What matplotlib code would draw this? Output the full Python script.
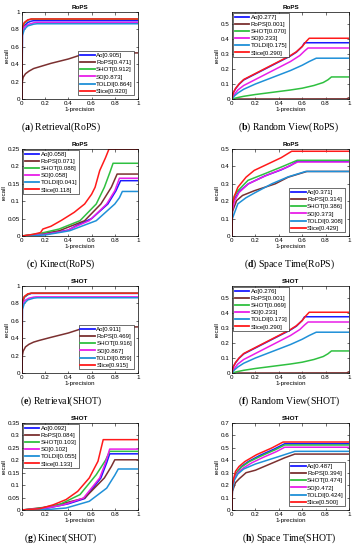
import matplotlib
matplotlib.use("Agg")
import matplotlib.pyplot as plt
from matplotlib import font_manager

# ---- data: (1-precision, recall) points ------------------------------------
methods = ["Ao", "RoPS", "SHOT", "SD", "TOLDI", "Slice"]
colors = ["#1a1aff", "#7b3030", "#2fc040", "#e81ee8", "#1f90d8", "#ff1a1a"]

# (a) Retrieval(RoPS)
ret_rops_ao = [(0, 0), (0.003, 0.78), (0.02, 0.84), (0.05, 0.88), (0.08, 0.895), (0.1, 0.9), (1, 0.9)]
ret_rops_rops = [(0, 0), (0.003, 0.2), (0.01, 0.25), (0.03, 0.29), (0.06, 0.32), (0.1, 0.35), (0.15, 0.37),
                 (0.25, 0.41), (0.4, 0.46), (0.55, 0.525), (1, 0.53)]
ret_rops_shot = [(0, 0), (0.002, 0.8), (0.02, 0.87), (0.05, 0.905), (0.08, 0.918), (1, 0.918)]
ret_rops_sd = [(0, 0), (0.003, 0.76), (0.02, 0.83), (0.06, 0.86), (0.1, 0.875), (0.12, 0.88), (1, 0.88)]
ret_rops_toldi = [(0, 0), (0.004, 0.73), (0.02, 0.8), (0.05, 0.84), (0.1, 0.86), (0.13, 0.865), (1, 0.865)]
ret_rops_slice = [(0, 0), (0.002, 0.82), (0.02, 0.88), (0.05, 0.91), (0.08, 0.92), (1, 0.92)]
ret_rops_auc = ["0.905", "0.471", "0.912", "0.873", "0.864", "0.920"]

# (b) Random View(RoPS)
rv_rops_ao = [(0, 0), (0.01, 0.04), (0.03, 0.068), (0.06, 0.098), (0.1, 0.127), (0.2, 0.167), (0.3, 0.207),
              (0.4, 0.247), (0.5, 0.287), (0.55, 0.312), (0.6, 0.35), (0.62, 0.375), (1, 0.375)]
rv_rops_rops = [(0, 0), (0.98, 0.001), (1, 0.008)]
rv_rops_shot = [(0, 0), (0.05, 0.01), (0.1, 0.018), (0.2, 0.03), (0.3, 0.04), (0.4, 0.05), (0.5, 0.06),
                (0.6, 0.072), (0.7, 0.09), (0.78, 0.11), (0.82, 0.128), (0.85, 0.147), (1, 0.147)]
rv_rops_sd = [(0, 0), (0.01, 0.02), (0.05, 0.06), (0.1, 0.09), (0.2, 0.13), (0.3, 0.17), (0.4, 0.21),
              (0.5, 0.25), (0.58, 0.29), (0.62, 0.32), (0.65, 0.34), (1, 0.34)]
rv_rops_toldi = [(0, 0), (0.02, 0.02), (0.05, 0.04), (0.1, 0.065), (0.2, 0.1), (0.3, 0.13), (0.4, 0.16),
                 (0.5, 0.19), (0.6, 0.225), (0.66, 0.25), (0.72, 0.272), (1, 0.272)]
rv_rops_slice = [(0, 0), (0.01, 0.04), (0.03, 0.07), (0.06, 0.1), (0.1, 0.13), (0.2, 0.17), (0.3, 0.21),
                 (0.4, 0.25), (0.5, 0.29), (0.55, 0.315), (0.6, 0.35), (0.63, 0.38), (0.66, 0.405), (1, 0.405)]
rv_rops_auc = ["0.277", "0.001", "0.070", "0.233", "0.175", "0.290"]

# (c) Kinect(RoPS)
kin_rops_ao = [(0, 0), (0.2, 0.005), (0.4, 0.017), (0.47, 0.03), (0.6, 0.05), (0.74, 0.092), (0.81, 0.13),
               (0.85, 0.159), (1, 0.159)]
kin_rops_rops = [(0, 0), (0.2, 0.008), (0.32, 0.015), (0.54, 0.044), (0.68, 0.092), (0.77, 0.14),
                 (0.82, 0.178), (1, 0.178)]
kin_rops_shot = [(0, 0), (0.15, 0.007), (0.32, 0.02), (0.5, 0.044), (0.64, 0.092), (0.71, 0.14),
                 (0.76, 0.185), (0.785, 0.209), (1, 0.209)]
kin_rops_sd = [(0, 0), (0.2, 0.005), (0.38, 0.015), (0.58, 0.044), (0.73, 0.092), (0.8, 0.13),
               (0.84, 0.166), (1, 0.166)]
kin_rops_toldi = [(0, 0), (0.2, 0.003), (0.41, 0.015), (0.64, 0.044), (0.8, 0.092), (0.84, 0.11),
                  (0.865, 0.128), (1, 0.128)]
kin_rops_slice = [(0, 0), (0.1, 0.005), (0.16, 0.01), (0.18, 0.02), (0.25, 0.028), (0.34, 0.045),
                  (0.45, 0.068), (0.54, 0.092), (0.6, 0.12), (0.63, 0.14), (0.67, 0.188), (0.72, 0.225),
                  (0.75, 0.25), (1, 0.25)]
kin_rops_auc = ["0.058", "0.071", "0.088", "0.058", "0.041", "0.118"]

# (d) Space Time(RoPS)
st_rops_ao = [(0, 0), (0.003, 0.16), (0.02, 0.21), (0.06, 0.255), (0.14, 0.3), (0.28, 0.345), (0.42, 0.38),
              (0.5, 0.405), (0.56, 0.43), (1, 0.43)]
st_rops_rops = [(0, 0), (0.003, 0.14), (0.04, 0.204), (0.09, 0.233), (0.19, 0.26), (0.37, 0.3),
                (0.48, 0.338), (0.64, 0.371), (1, 0.371)]
st_rops_shot = [(0, 0), (0.003, 0.17), (0.02, 0.23), (0.05, 0.26), (0.137, 0.32), (0.28, 0.358),
                (0.42, 0.396), (0.557, 0.435), (1, 0.435)]
st_rops_sd = [(0, 0), (0.003, 0.15), (0.02, 0.2), (0.06, 0.25), (0.14, 0.3), (0.3, 0.35), (0.45, 0.39),
              (0.56, 0.425), (1, 0.425)]
st_rops_toldi = [(0, 0), (0.003, 0.1), (0.05, 0.185), (0.12, 0.22), (0.2, 0.25), (0.34, 0.3), (0.48, 0.34),
                 (0.63, 0.371), (1, 0.371)]
st_rops_slice = [(0, 0), (0.003, 0.18), (0.017, 0.223), (0.05, 0.28), (0.12, 0.338), (0.19, 0.377),
                 (0.31, 0.415), (0.42, 0.45), (0.51, 0.487), (1, 0.487)]
st_rops_auc = ["0.371", "0.314", "0.386", "0.373", "0.308", "0.429"]

# (e) Retrieval(SHOT)
ret_shot_ao = [(0, 0), (0.002, 0.8), (0.02, 0.87), (0.05, 0.9), (0.08, 0.915), (1, 0.915)]
ret_shot_rops = [(0, 0), (0.003, 0.2), (0.01, 0.25), (0.03, 0.3), (0.06, 0.33), (0.1, 0.355), (0.15, 0.375),
                 (0.25, 0.41), (0.4, 0.46), (0.55, 0.525), (1, 0.53)]
ret_shot_shot = [(0, 0), (0.002, 0.8), (0.02, 0.875), (0.05, 0.905), (0.08, 0.917), (1, 0.917)]
ret_shot_sd = [(0, 0), (0.003, 0.76), (0.02, 0.83), (0.06, 0.86), (0.1, 0.872), (0.12, 0.875), (1, 0.875)]
ret_shot_toldi = [(0, 0), (0.004, 0.73), (0.02, 0.8), (0.05, 0.84), (0.1, 0.86), (0.13, 0.865), (1, 0.865)]
ret_shot_slice = [(0, 0), (0.002, 0.82), (0.02, 0.88), (0.05, 0.91), (0.08, 0.918), (1, 0.918)]
ret_shot_auc = ["0.911", "0.469", "0.916", "0.867", "0.859", "0.915"]

# (f) Random View(SHOT)
rv_shot_ao = [(0, 0), (0.01, 0.04), (0.03, 0.068), (0.06, 0.098), (0.1, 0.127), (0.2, 0.167), (0.3, 0.207),
              (0.4, 0.247), (0.5, 0.287), (0.55, 0.312), (0.6, 0.35), (0.62, 0.375), (1, 0.375)]
rv_shot_rops = [(0, 0), (0.98, 0.001), (1, 0.008)]
rv_shot_shot = [(0, 0), (0.05, 0.01), (0.1, 0.018), (0.2, 0.03), (0.3, 0.04), (0.4, 0.05), (0.5, 0.06),
                (0.6, 0.072), (0.7, 0.09), (0.78, 0.11), (0.82, 0.128), (0.85, 0.147), (1, 0.147)]
rv_shot_sd = [(0, 0), (0.01, 0.02), (0.05, 0.06), (0.1, 0.09), (0.2, 0.13), (0.3, 0.17), (0.4, 0.21),
              (0.5, 0.25), (0.58, 0.29), (0.62, 0.32), (0.65, 0.34), (1, 0.34)]
rv_shot_toldi = [(0, 0), (0.02, 0.02), (0.05, 0.04), (0.1, 0.065), (0.2, 0.1), (0.3, 0.13), (0.4, 0.16),
                 (0.5, 0.19), (0.6, 0.225), (0.66, 0.25), (0.72, 0.272), (1, 0.272)]
rv_shot_slice = [(0, 0), (0.01, 0.04), (0.03, 0.07), (0.06, 0.1), (0.1, 0.13), (0.2, 0.17), (0.3, 0.21),
                 (0.4, 0.25), (0.5, 0.29), (0.55, 0.315), (0.6, 0.35), (0.63, 0.38), (0.66, 0.405), (1, 0.405)]
rv_shot_auc = ["0.276", "0.001", "0.069", "0.233", "0.173", "0.290"]

# (g) Kinect(SHOT)
kin_shot_ao = [(0, 0), (0.2, 0.006), (0.4, 0.025), (0.54, 0.046), (0.68, 0.129), (0.73, 0.19),
               (0.756, 0.226), (1, 0.226)]
kin_shot_rops = [(0, 0), (0.18, 0.01), (0.3, 0.02), (0.54, 0.048), (0.71, 0.129), (0.77, 0.175),
                 (0.8, 0.202), (1, 0.202)]
kin_shot_shot = [(0, 0), (0.18, 0.008), (0.32, 0.021), (0.5, 0.062), (0.64, 0.142), (0.72, 0.2),
                 (0.756, 0.236), (1, 0.236)]
kin_shot_sd = [(0, 0), (0.2, 0.007), (0.35, 0.02), (0.53, 0.048), (0.67, 0.129), (0.72, 0.19),
               (0.756, 0.245), (1, 0.245)]
kin_shot_toldi = [(0, 0), (0.25, 0.003), (0.38, 0.008), (0.58, 0.035), (0.73, 0.088), (0.8, 0.14),
                  (0.83, 0.165), (1, 0.165)]
kin_shot_slice = [(0, 0), (0.15, 0.005), (0.27, 0.021), (0.38, 0.042), (0.48, 0.075), (0.58, 0.129),
                  (0.655, 0.196), (0.7, 0.283), (1, 0.283)]
kin_shot_auc = ["0.092", "0.084", "0.103", "0.102", "0.055", "0.133"]

# (h) Space Time(SHOT)
st_shot_ao = [(0, 0), (0.003, 0.2), (0.02, 0.26), (0.04, 0.3), (0.08, 0.35), (0.14, 0.39), (0.24, 0.44),
              (0.36, 0.49), (0.45, 0.533), (1, 0.533)]
st_shot_rops = [(0, 0), (0.003, 0.15), (0.03, 0.22), (0.06, 0.25), (0.12, 0.3), (0.2, 0.32), (0.25, 0.34),
                (0.35, 0.38), (0.45, 0.42), (0.537, 0.45), (1, 0.45)]
st_shot_shot = [(0, 0), (0.003, 0.19), (0.02, 0.255), (0.04, 0.3), (0.08, 0.345), (0.15, 0.39),
                (0.25, 0.435), (0.37, 0.485), (0.45, 0.523), (1, 0.523)]
st_shot_sd = [(0, 0), (0.003, 0.18), (0.02, 0.25), (0.05, 0.3), (0.1, 0.34), (0.17, 0.38), (0.27, 0.425),
              (0.38, 0.47), (0.45, 0.505), (1, 0.505)]
st_shot_toldi = [(0, 0), (0.003, 0.15), (0.02, 0.24), (0.05, 0.29), (0.1, 0.33), (0.2, 0.37), (0.3, 0.4),
                 (0.4, 0.43), (0.537, 0.472), (1, 0.472)]
st_shot_slice = [(0, 0), (0.003, 0.2), (0.015, 0.257), (0.03, 0.311), (0.06, 0.35), (0.11, 0.39),
                 (0.21, 0.445), (0.34, 0.499), (0.437, 0.547), (1, 0.547)]
st_shot_auc = ["0.487", "0.394", "0.474", "0.472", "0.424", "0.500"]

# ---- figure ----------------------------------------------------------------
plt.rcParams["font.family"] = ["Liberation Sans", "DejaVu Sans"]
plt.rcParams["mathtext.fontset"] = "custom"
plt.rcParams["mathtext.rm"] = "Liberation Serif"
plt.rcParams["mathtext.bf"] = "Liberation Serif:bold"

# legend text is narrow in the original; use the narrow face if available
installed = {f.name for f in font_manager.fontManager.ttflist}
leg_family = "Liberation Sans Narrow" if "Liberation Sans Narrow" in installed else "Liberation Sans"

W, H = 356, 550
fig = plt.figure(figsize=(W / 100, H / 100), dpi=100)

panels = [
    ("a", "Retrieval(RoPS)", "RoPS",
     [ret_rops_ao, ret_rops_rops, ret_rops_shot, ret_rops_sd, ret_rops_toldi, ret_rops_slice],
     ret_rops_auc, 1.0, 0.2, "lower right"),
    ("b", "Random View(RoPS)", "RoPS",
     [rv_rops_ao, rv_rops_rops, rv_rops_shot, rv_rops_sd, rv_rops_toldi, rv_rops_slice],
     rv_rops_auc, 0.58, 0.1, "upper left"),
    ("c", "Kinect(RoPS)", "RoPS",
     [kin_rops_ao, kin_rops_rops, kin_rops_shot, kin_rops_sd, kin_rops_toldi, kin_rops_slice],
     kin_rops_auc, 0.25, 0.05, "upper left"),
    ("d", "Space Time(RoPS)", "RoPS",
     [st_rops_ao, st_rops_rops, st_rops_shot, st_rops_sd, st_rops_toldi, st_rops_slice],
     st_rops_auc, 0.5, 0.1, "lower right"),
    ("e", "Retrieval(SHOT)", "SHOT",
     [ret_shot_ao, ret_shot_rops, ret_shot_shot, ret_shot_sd, ret_shot_toldi, ret_shot_slice],
     ret_shot_auc, 1.0, 0.2, "lower right"),
    ("f", "Random View(SHOT)", "SHOT",
     [rv_shot_ao, rv_shot_rops, rv_shot_shot, rv_shot_sd, rv_shot_toldi, rv_shot_slice],
     rv_shot_auc, 0.58, 0.1, "upper left"),
    ("g", "Kinect(SHOT)", "SHOT",
     [kin_shot_ao, kin_shot_rops, kin_shot_shot, kin_shot_sd, kin_shot_toldi, kin_shot_slice],
     kin_shot_auc, 0.35, 0.05, "upper left"),
    ("h", "Space Time(SHOT)", "SHOT",
     [st_shot_ao, st_shot_rops, st_shot_shot, st_shot_sd, st_shot_toldi, st_shot_slice],
     st_shot_auc, 0.7, 0.1, "lower right"),
]

# pixel layout of the grid
col_left = [22, 232]
col_width = [116, 117]
row_top = [12, 149, 286, 423]
ax_h = 87
cap_x = [61, 289]
cap_dy = 115

for i, (letter, caption, title, curves, auc, ymax, ystep, loc) in enumerate(panels):
    r, c = divmod(i, 2)
    ax = fig.add_axes([col_left[c] / W, 1 - (row_top[r] + ax_h) / H,
                       col_width[c] / W, ax_h / H])
    for name, col, pts, a in zip(methods, colors, curves, auc):
        xs = [p[0] for p in pts]
        ys = [p[1] for p in pts]
        ax.plot(xs, ys, color=col, lw=1.1, label=f"{name}[{a}]")
    ax.set_xlim(0, 1)
    ax.set_ylim(0, ymax)
    ax.set_xticks([0, 0.2, 0.4, 0.6, 0.8, 1])
    ax.set_xticklabels(["0", "0.2", "0.4", "0.6", "0.8", "1"])
    n = int(round(ymax / ystep + 1e-9))
    yt = [round(k * ystep, 3) for k in range(n + 1) if k * ystep <= ymax + 1e-9]
    ax.set_yticks(yt)
    ax.set_yticklabels([f"{v:g}" for v in yt])
    ax.tick_params(direction="in", length=1.8, width=0.4, labelsize=4.5, pad=1.5,
                   top=True, right=True)
    for s in ax.spines.values():
        s.set_linewidth(0.5)
    ax.set_title(title, fontsize=4.5, fontweight="bold", pad=2)
    ax.set_xlabel("1-precision", fontsize=4.5, labelpad=1)
    ax.set_ylabel("recall", fontsize=4.5, labelpad=1)
    pad = 0.6 if loc == "lower right" else 0.2
    leg = ax.legend(loc=loc, prop={"family": leg_family, "size": 4.4}, frameon=True,
                    fancybox=False, edgecolor="black", framealpha=1, handlelength=2.4,
                    handletextpad=0.25, labelspacing=0.3, borderpad=0.25, borderaxespad=pad)
    leg.get_frame().set_linewidth(0.4)
    for ln in leg.get_lines():
        ln.set_linewidth(1.3)
    fig.text(cap_x[c] / W, 1 - (row_top[r] + cap_dy) / H,
             "(" + r"$\mathbf{" + letter + "}$" + ") " + caption,
             ha="center", va="center", fontsize=7, family="Liberation Serif")

fig.savefig("out.png", dpi=100)
